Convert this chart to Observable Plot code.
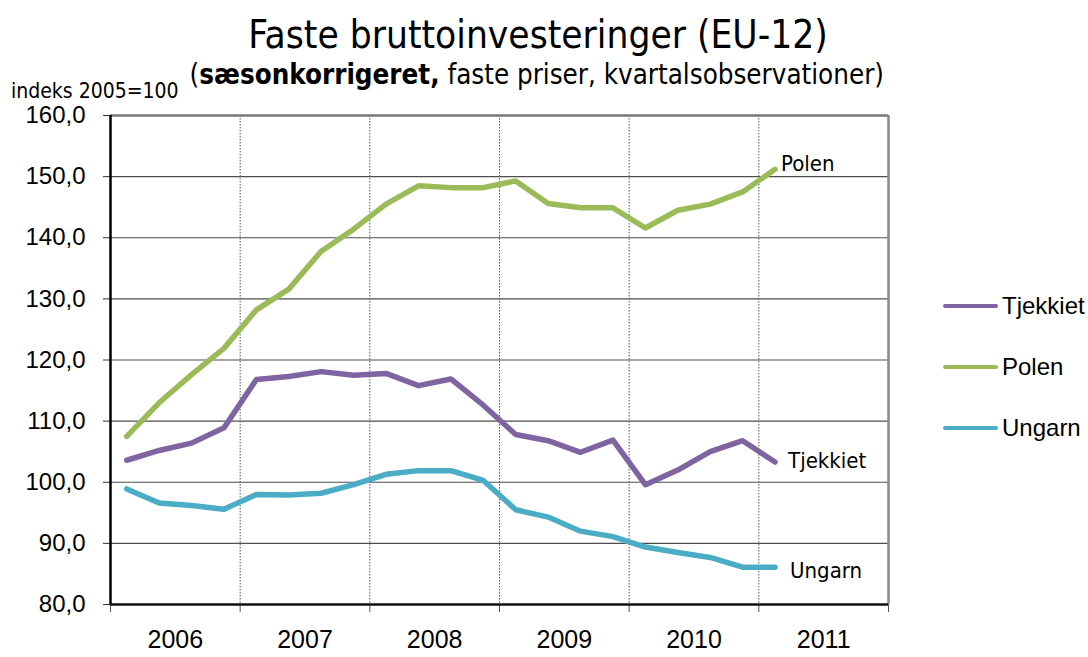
<!DOCTYPE html>
<html>
<head>
<meta charset="utf-8">
<script src="https://cdn.jsdelivr.net/npm/d3@7"></script>
<script src="https://cdn.jsdelivr.net/npm/@observablehq/plot@0.6"></script>
<style>
  body { margin: 0; background: #fff; }
  #wrap { position: relative; width: 1088px; height: 657px; overflow: hidden; }
  .narrow { font-family: "Liberation Sans Narrow", "DejaVu Sans Condensed", "Arial Narrow", sans-serif; }
  #title { position: absolute; left: 0; top: 12px; width: 1076px; text-align: center; font-size: 38.5px; color: #000; }
  #subtitle { position: absolute; left: 0; top: 58px; width: 1076px; text-align: right; font-size: 27.5px; color: #000; }
  #unit { position: absolute; left: 11px; top: 79px; font-size: 21px; color: #000; }
  #chart { position: absolute; left: 0; top: 0; }
  #legend { position: absolute; left: 943px; top: 292px; font-family: "Liberation Sans", Arial, sans-serif; font-size: 24px; }
  .li { position: absolute; left: 0; white-space: nowrap; display: flex; align-items: center; height: 28px; }
  .sw { display: inline-block; width: 55px; height: 4.5px; border-radius: 2px; margin-right: 4px; }
</style>
</head>
<body>
<div id="wrap">
  <div id="chart"></div>
  <div id="title" class="narrow">Faste bruttoinvesteringer (EU-12)</div>
  <div id="subtitle" class="narrow"><span style="display:inline-block;margin-right:192px">(<b>sæsonkorrigeret,</b> faste priser, kvartalsobservationer)</span></div>
  <div id="unit" class="narrow">indeks 2005=100</div>
  <div id="legend"></div>
</div>
<script>
// Quarterly observations 2006Q1 .. 2011Q1
const quarters = d3.range(21).map(i => `${2006 + Math.floor(i / 4)}Q${(i % 4) + 1}`);
const tjekkiet = [103.6, 105.2, 106.4, 108.9, 116.8, 117.3, 118.1, 117.5, 117.8, 115.8, 116.9, 112.6,
                  107.8, 106.8, 104.9, 106.9, 99.6, 102.0, 105.0, 106.8, 103.3];
const polen    = [107.5, 113.0, 117.6, 121.9, 128.2, 131.6, 137.8, 141.4, 145.5, 148.5, 148.2, 148.2,
                  149.3, 145.6, 144.9, 144.9, 141.6, 144.5, 145.5, 147.5, 151.2];
const ungarn   = [98.9, 96.6, 96.2, 95.6, 98.0, 97.9, 98.2, 99.6, 101.3, 101.9, 101.9, 100.3,
                  95.5, 94.3, 92.0, 91.1, 89.4, 88.5, 87.7, 86.1, 86.1];
const seriesNames  = ["Tjekkiet", "Polen", "Ungarn"];
const seriesColors = ["#8064A2", "#9BBB59", "#4BACC6"];
const yTicks = [80, 90, 100, 110, 120, 130, 140, 150, 160];
const yearLabels = ["2006", "2007", "2008", "2009", "2010", "2011"];

const seriesValues = [tjekkiet, polen, ungarn];
const qx = q => +q.slice(0, 4) + (+q.slice(5) - 0.5) / 4;
const rows = seriesNames.flatMap((s, k) => quarters.map((q, i) => ({ serie: s, t: qx(q), v: seriesValues[k][i] })));
const lastRows = seriesNames.map((s, k) => ({ serie: s, t: qx(quarters[quarters.length - 1]), v: seriesValues[k][quarters.length - 1] }));
const yearStarts = yearLabels.map(Number);
const yearBounds = [...yearStarts, yearStarts[yearStarts.length - 1] + 1];
const yearMids = yearStarts.map(y => y + 0.5);
const fmt = d => d3.format(".1f")(d).replace(".", ",");
const labelOffsets = { Polen: [6, -5], Tjekkiet: [13, -1], Ungarn: [15, 4] };

const chart = Plot.plot({
  width: 1088,
  height: 657,
  marginLeft: 110,
  marginRight: 200,
  marginTop: 115,
  marginBottom: 53,
  style: { fontFamily: "'Liberation Sans', Arial, sans-serif", background: "transparent", color: "#000" },
  x: { domain: [yearBounds[0], yearBounds[yearBounds.length - 1]], axis: null },
  y: { domain: [yTicks[0], yTicks[yTicks.length - 1]], axis: null },
  color: { domain: seriesNames, range: seriesColors },
  marks: [
    Plot.ruleY(yTicks.slice(1, -1), { stroke: "#4d4d4d", strokeWidth: 1.2 }),
    Plot.ruleX(yearBounds.slice(1, -1), { stroke: "#555", strokeWidth: 1, strokeDasharray: "1.5,1.5" }),
    Plot.ruleY([yTicks[yTicks.length - 1]], { stroke: "#777", strokeWidth: 2.5 }),
    Plot.ruleX([yearBounds[yearBounds.length - 1]], { stroke: "#888", strokeWidth: 2.5 }),
    Plot.axisY(yTicks, { tickSize: 7, tickPadding: 18, tickFormat: fmt, fontSize: 24, stroke: "#333", label: null }),
    Plot.axisX(yearBounds, { tickSize: 8, tickFormat: () => "", stroke: "#555", label: null }),
    Plot.axisX(yearMids, { tickSize: 0, tickPadding: 26, tickFormat: d => yearLabels[yearMids.indexOf(d)], fontSize: 25, label: null }),
    Plot.ruleX([yearBounds[0]], { stroke: "#000", strokeWidth: 2.5 }),
    Plot.ruleY([yTicks[0]], { stroke: "#111", strokeWidth: 2.5 }),
    Plot.line(rows, { x: "t", y: "v", z: "serie", stroke: "serie", strokeWidth: 5.5, strokeLinecap: "round", strokeLinejoin: "round" }),
    ...lastRows.map(r => Plot.text([r], {
      x: "t", y: "v", text: "serie", textAnchor: "start",
      dx: labelOffsets[r.serie][0], dy: labelOffsets[r.serie][1],
      fontSize: 22, fontFamily: "'Liberation Sans Narrow', 'DejaVu Sans Condensed', sans-serif", fill: "#000"
    }))
  ]
});
document.getElementById("chart").appendChild(chart);

const legend = document.getElementById("legend");
seriesNames.forEach((s, k) => {
  const d = document.createElement("div");
  d.className = "li";
  d.style.top = (k * 61) + "px";
  d.innerHTML = `<span class="sw" style="background:${seriesColors[k]}"></span><span>${s}</span>`;
  legend.appendChild(d);
});
</script>
</body>
</html>
